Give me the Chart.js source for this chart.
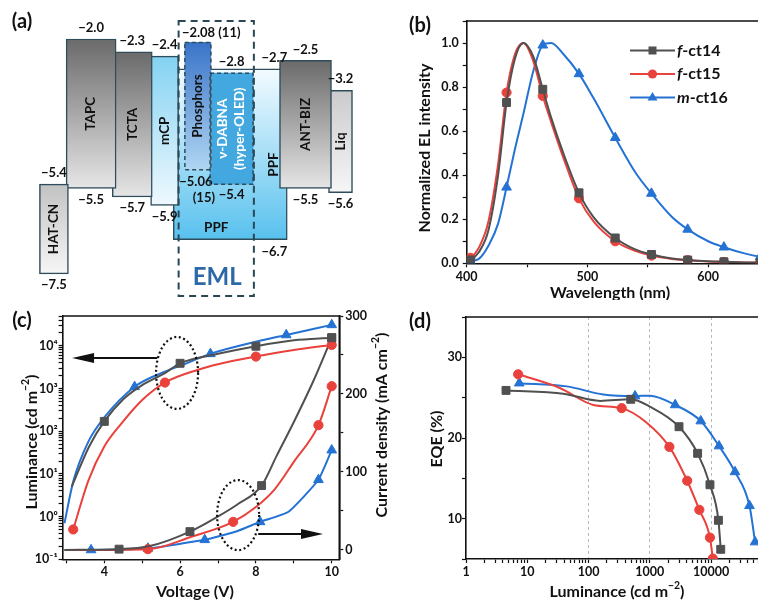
<!DOCTYPE html>
<html>
<head>
<meta charset="utf-8">
<script src="https://cdn.jsdelivr.net/npm/chart.js@4.4.1/dist/chart.umd.min.js"></script>
<style>
  html, body { margin: 0; padding: 0; background: #fff; }
  #page { position: relative; width: 758px; height: 600px; overflow: hidden; background: #fff; }
  canvas { position: absolute; }
</style>
</head>
<body>
<div id="page">
  <canvas id="energy" width="380" height="300" style="left:0;top:0"></canvas>
  <canvas id="spectra" width="460" height="300" style="left:380px;top:0"></canvas>
  <canvas id="jvl" width="420" height="300" style="left:0;top:300px"></canvas>
  <canvas id="eqe" width="400" height="300" style="left:380px;top:300px"></canvas>
</div>
<script>
// ---- (a) energy levels (eV) ----
const layers = ['HAT-CN', 'TAPC', 'TCTA', 'mCP', 'PPF', 'Phosphors', 'ν-DABNA', 'ANT-BIZ', 'Liq'];
const lumo = [-5.4, -2.0, -2.3, -2.4, -2.7, -2.08, -2.8, -2.5, -3.2];
const homo = [-7.5, -5.5, -5.7, -5.9, -6.7, -5.06, -5.4, -5.5, -5.6];
const refs = ['(11)', '(15)'];   // citations next to the phosphor levels

// ---- (b) EL spectra ----
const wavelengths = [400, 403, 410, 418, 426, 433, 440, 447, 455, 463, 470, 480, 493, 505, 523, 540, 553, 570, 583, 600, 613, 630, 643, 670, 700];
const ct14 = [0.01, 0.015, 0.05, 0.15, 0.40, 0.73, 0.93, 1.0, 0.94, 0.79, 0.66, 0.50, 0.32, 0.21, 0.115, 0.062, 0.04, 0.022, 0.015, 0.009, 0.007, 0.004, 0.003, 0.002, 0.001];
const ct15 = [0.02, 0.025, 0.07, 0.19, 0.45, 0.775, 0.95, 1.0, 0.92, 0.76, 0.64, 0.48, 0.295, 0.19, 0.10, 0.055, 0.035, 0.02, 0.014, 0.008, 0.006, 0.004, 0.003, 0.002, 0.001];
const ct16 = [0.005, 0.01, 0.02, 0.08, 0.18, 0.345, 0.52, 0.68, 0.87, 0.99, 1.0, 0.95, 0.86, 0.75, 0.57, 0.41, 0.317, 0.21, 0.154, 0.10, 0.073, 0.045, 0.03, 0.015, 0.008];
const markedWavelengths = [403, 433, 463, 493, 523, 553, 583, 613, 643];
const names = ['f-ct14', 'f-ct15', 'm-ct16'];

// ---- (c) J-V-L ----
const lumV14 = [3.14, 3.6, 4.0, 4.5, 5.0, 5.6, 6.0, 7.0, 8.0, 9.0, 10.0];
const lum14 = [5, 44, 170, 560, 1200, 2300, 3900, 6500, 9800, 13500, 15500];
const lumMarks14 = [4.0, 6.0, 8.0, 10.0];
const lumV15 = [3.18, 3.58, 4.0, 4.46, 5.0, 5.6, 6.5, 7.0, 8.0, 9.0, 10.0];
const lum15 = [0.5, 7, 44, 155, 540, 1380, 2800, 3700, 5600, 8000, 10500];
const lumMarks15 = [3.18, 5.6, 8.0, 10.0];
const lumV16 = [2.95, 3.18, 3.58, 4.0, 4.8, 5.5, 6.0, 6.8, 8.0, 8.8, 10.0];
const lum16 = [0.7, 6.6, 57, 210, 1100, 2300, 3400, 6500, 12500, 18000, 31000];
const lumMarks16 = [4.8, 6.8, 8.8, 10.0];

const jV14 = [2.95, 4.39, 5.2, 6.26, 7.0, 7.5, 8.15, 8.54, 9.03, 9.51, 10.0];
const j14 = [0, 1, 5, 23.5, 43, 58, 82.5, 120, 167, 216, 272];
const jMarks14 = [4.39, 6.26, 8.15, 10.0];
const jV15 = [2.95, 5.15, 6.3, 7.4, 8.0, 8.5, 9.0, 9.65, 10.0];
const j15 = [0, 1, 17, 36, 55, 78, 113, 160, 210];
const jMarks15 = [5.15, 7.4, 9.65, 10.0];
const jV16 = [2.95, 3.65, 5.15, 6.65, 7.5, 8.11, 8.86, 9.65, 10.0];
const j16 = [0, 0, 2, 13, 24, 36, 49, 90, 128];
const jMarks16 = [3.65, 5.15, 6.65, 8.11, 9.65, 10.0];

// ---- (d) EQE vs luminance ----
const eqeL14 = [4.5, 39, 155, 489, 1000, 3000, 6040, 9600, 13200, 14400];
const eqe14 = [25.9, 25.5, 24.6, 24.8, 23.9, 21.4, 18.1, 14.2, 9.8, 6.2];
const eqeMarks14 = [4.5, 489, 3000, 6040, 9600, 13200, 14400];
const eqeL15 = [7.1, 34, 120, 348, 890, 2090, 4080, 6440, 9600, 10700];
const eqe15 = [27.9, 26.2, 24.1, 23.7, 21.9, 18.9, 14.7, 11.1, 7.65, 5.05];
const eqeMarks15 = [7.1, 348, 2090, 4080, 6440, 9600, 10700];
const eqeL16 = [7.4, 44, 174, 575, 1000, 2600, 6800, 13500, 24600, 42400, 52400];
const eqe16 = [26.8, 26.4, 25.4, 25.2, 25.25, 24.1, 22.1, 19.0, 15.8, 11.6, 7.1];
const eqeMarks16 = [7.4, 575, 2600, 6800, 13500, 24600, 42400, 52400];

// ---------------------------------------------------------------
const FONT = 'Lato, "DejaVu Sans", sans-serif';
const INK = '#111';
const GRAY = '#505050', RED = '#e9423d', BLUE = '#2472d4';

Chart.defaults.font.family = FONT;
Chart.defaults.font.weight = 'bold';
Chart.defaults.font.size = 12.5;
Chart.defaults.color = INK;
Chart.defaults.animation = false;
Chart.defaults.responsive = false;
Chart.defaults.plugins.legend.display = false;
Chart.defaults.plugins.tooltip.enabled = false;

// text made of pieces: [text, ''|'i'|'sup']
function richText(ctx, parts, x, y, size, opts) {
  opts = opts || {};
  const fontFor = s => (s === 'i' ? 'italic ' : '') + 'bold ' + (s === 'sup' ? size * 0.65 : size) + 'px ' + FONT;
  ctx.save();
  ctx.translate(x, y);
  if (opts.rotate) ctx.rotate(opts.rotate);
  let total = 0;
  parts.forEach(([t, s]) => { ctx.font = fontFor(s); total += ctx.measureText(t).width; });
  let cx = opts.align === 'left' ? 0 : -total / 2;
  ctx.textAlign = 'left';
  ctx.textBaseline = 'middle';
  ctx.fillStyle = opts.color || INK;
  parts.forEach(([t, s]) => {
    ctx.font = fontFor(s);
    ctx.fillText(t, cx, s === 'sup' ? -size * 0.38 : 0);
    cx += ctx.measureText(t).width;
  });
  ctx.restore();
}

function textLayer(id, items) {
  return {
    id,
    afterDraw(chart) {
      items.forEach(it => richText(chart.ctx, it.parts, it.x, it.y, it.size || 16, it));
    }
  };
}

const frame = {
  id: 'frame',
  afterDatasetsDraw(chart) {
    const {ctx, chartArea: a} = chart;
    ctx.save();
    ctx.strokeStyle = INK;
    ctx.lineWidth = 1.6;
    ctx.beginPath();
    ctx.moveTo(a.left, a.top);
    ctx.lineTo(a.right, a.top);
    ctx.lineTo(a.right, a.bottom);
    ctx.stroke();
    ctx.restore();
  }
};

function axis(o) {
  return {
    type: o.type || 'linear',
    position: o.position,
    min: o.min,
    max: o.max,
    border: {color: INK, width: 1.6},
    grid: Object.assign({drawOnChartArea: false, tickLength: 4, tickColor: INK, tickWidth: 1.2}, o.grid || {}),
    ticks: {color: INK, font: {size: 12.5, weight: 'bold'}, autoSkip: false, maxRotation: 0, padding: o.pad || 0, callback: o.label},
    afterBuildTicks: s => { s.ticks = o.values.map(value => ({value})); },
    afterFit: s => {
      if (o.width !== undefined) s.width = o.width;
      if (o.height !== undefined) s.height = o.height;
    }
  };
}

function curve(label, xs, ys, marks, color, shape, r, extra) {
  return Object.assign({
    label,
    data: xs.map((x, i) => ({x, y: ys[i]})),
    borderColor: color,
    backgroundColor: color,
    borderWidth: 2,
    pointStyle: shape,
    pointBackgroundColor: color,
    pointBorderColor: color,
    pointBorderWidth: 1,
    pointRadius: c => (marks.includes(xs[c.dataIndex]) ? r : 0),
    cubicInterpolationMode: 'monotone',
    fill: false
  }, extra || {});
}

const sup = n => String(n).split('').map(ch => ({'-': '⁻', '0': '⁰', '1': '¹', '2': '²', '3': '³', '4': '⁴', '5': '⁵'})[ch]).join('');
const isDecade = v => Math.abs(Math.log10(v) - Math.round(Math.log10(v))) < 1e-6;
function logTicks(lo, hi) {
  const out = [];
  for (let d = Math.floor(Math.log10(lo)); d <= Math.ceil(Math.log10(hi)); d++) {
    for (let k = 1; k <= 9; k++) {
      const v = Number((k * Math.pow(10, d)).toPrecision(3));
      if (v >= lo && v <= hi) out.push(v);
    }
  }
  return out;
}
function steps(a, b, s) { const out = []; for (let v = a; v <= b + 1e-9; v += s) out.push(Number(v.toFixed(4))); return out; }

// =============== (a) energy diagram =================
const layerX = [34.5, 77, 124, 161, 236, 199, 237.5, 322, 362];
const layerW = [29, 50, 40, 28, 114, 26, 43, 52, 24];
const layerFill = [
  ['#c2c2c2', '#f6f6f6'], ['#6a6a6a', '#e6e6e6'], ['#6a6a6a', '#e6e6e6'], ['#84d2f2', '#eff9fe'],
  ['#f3fbff', '#58c1ee'], ['#3a74c8', '#b0d6f3'], ['#42a8df', '#42a8df'], ['#6a6a6a', '#e6e6e6'], ['#cbcbcb', '#f6f6f6']
];
const dashed = [false, false, false, false, false, true, true, false, false];
const EDGE = '#2e4c5a';

const fmt = v => '−' + (Math.abs(v) % 1 === 0 ? Math.abs(v).toFixed(1) : String(Math.abs(v)));

const energyDecor = {
  id: 'energyDecor',
  afterDatasetsDraw(chart) {
    const {ctx, scales: {x, y}} = chart;
    ctx.save();
    chart.data.datasets.forEach((ds, i) => {
      const bar = chart.getDatasetMeta(i).data[0];
      const p = bar.getProps(['x', 'y', 'base', 'width'], true);
      const top = Math.min(p.y, p.base), bottom = Math.max(p.y, p.base);
      const left = p.x - p.width / 2, right = p.x + p.width / 2;
      if (dashed[i]) {
        ctx.setLineDash([4, 3]);
        ctx.strokeStyle = EDGE;
        ctx.lineWidth = 1.5;
        ctx.strokeRect(left, top, p.width, bottom - top);
        ctx.setLineDash([]);
      }
      // level values
      ctx.font = 'bold 13px ' + FONT;
      ctx.fillStyle = INK;
      ctx.textBaseline = 'middle';
      const name = layers[i];
      if (name === 'PPF') {
        ctx.textAlign = 'right';
        ctx.fillText(fmt(lumo[i]), right, top - 11);
        ctx.fillText(fmt(homo[i]), right, bottom + 12);
      } else if (name === 'Phosphors') {
        ctx.textAlign = 'left';
        ctx.fillText(fmt(lumo[i]) + ' ' + refs[0], left - 3, top - 10);
        ctx.textAlign = 'center';
        ctx.fillText(fmt(homo[i]), p.x - 2, bottom + 12);
        ctx.fillText(refs[1], p.x + 6, bottom + 28);
      } else {
        ctx.textAlign = 'center';
        ctx.fillText(fmt(lumo[i]), p.x, top - 11);
        ctx.fillText(fmt(homo[i]), p.x, bottom + 11);
      }
      // layer names
      const cy = (top + bottom) / 2;
      if (name === 'PPF') {
        richText(ctx, [['PPF', '']], right - 14, top + (bottom - top) * 0.56, 13.5, {rotate: -Math.PI / 2});
        richText(ctx, [['PPF', '']], left + 43, bottom - 12, 13.5);
      } else if (name === 'ν-DABNA') {
        richText(ctx, [['ν-DABNA', '']], p.x - 8.5, cy, 13.5, {rotate: -Math.PI / 2, color: '#fff'});
        richText(ctx, [['(hyper-OLED)', '']], p.x + 8.5, cy, 13.5, {rotate: -Math.PI / 2, color: '#fff'});
      } else {
        richText(ctx, [[name, '']], p.x, cy, 13.5, {rotate: -Math.PI / 2});
      }
    });
    // EML frame
    const ex0 = x.getPixelForValue(177), ex1 = x.getPixelForValue(263);
    const ey0 = y.getPixelForValue(-1.58), ey1 = y.getPixelForValue(-8.02);
    ctx.setLineDash([7, 5]);
    ctx.strokeStyle = '#2a4755';
    ctx.lineWidth = 2;
    ctx.strokeRect(ex0, ey0, ex1 - ex0, ey1 - ey0);
    ctx.setLineDash([]);
    richText(ctx, [['EML', '']], (ex0 + ex1) / 2 + 1, y.getPixelForValue(-7.57), 24, {color: '#2d69a6'});
    richText(ctx, [['(a)', '']], 22, 22, 20);
    ctx.restore();
  }
};

new Chart(document.getElementById('energy'), {
  type: 'bar',
  data: {
    datasets: layers.map((name, i) => ({
      label: name,
      data: [{x: layerX[i], y: [homo[i], lumo[i]]}],
      barThickness: layerW[i],
      grouped: false,
      order: name === 'PPF' ? 2 : (dashed[i] ? 0 : 1),
      borderSkipped: false,
      borderWidth: dashed[i] ? 0 : 1.5,
      borderColor: EDGE,
      backgroundColor: c => {
        const area = c.chart.chartArea;
        if (!area) return layerFill[i][0];
        const ys = c.chart.scales.y;
        const g = c.chart.ctx.createLinearGradient(0, ys.getPixelForValue(lumo[i]), 0, ys.getPixelForValue(homo[i]));
        g.addColorStop(0, layerFill[i][0]);
        g.addColorStop(1, layerFill[i][1]);
        return g;
      }
    }))
  },
  options: {
    layout: {padding: 0},
    scales: {
      x: {type: 'linear', min: 0, max: 380, display: false},
      y: {type: 'linear', min: -8.112, max: -1.087, display: false}
    }
  },
  plugins: [energyDecor]
});

// =============== (b) spectra =================
const SQ = ['rect', 5.6], CI = ['circle', 4.6], TR = ['triangle', 5.6];
const colors = [GRAY, RED, BLUE];
const shapes = [SQ, CI, TR];

const specLegend = {
  id: 'specLegend',
  afterDraw(chart) {
    const {ctx} = chart;
    names.forEach((nm, i) => {
      const yy = 50.5 + i * 23.5;
      ctx.save();
      ctx.strokeStyle = colors[i];
      ctx.fillStyle = colors[i];
      ctx.lineWidth = 2;
      ctx.beginPath();
      ctx.moveTo(250, yy); ctx.lineTo(295, yy); ctx.stroke();
      const cx = 272.5;
      ctx.beginPath();
      if (shapes[i][0] === 'rect') ctx.rect(cx - 4, yy - 4, 8, 8);
      else if (shapes[i][0] === 'circle') ctx.arc(cx, yy, 4.6, 0, Math.PI * 2);
      else { ctx.moveTo(cx, yy - 5.6); ctx.lineTo(cx + 5, yy + 3); ctx.lineTo(cx - 5, yy + 3); ctx.closePath(); }
      ctx.fill();
      ctx.restore();
      richText(ctx, [[nm[0], 'i'], [nm.slice(1), '']], 297, yy, 16, {align: 'left'});
    });
  }
};

new Chart(document.getElementById('spectra'), {
  type: 'line',
  data: {
    datasets: [ct14, ct15, ct16].map((ys, i) =>
      curve(names[i], wavelengths, ys, markedWavelengths, colors[i], shapes[i][0], shapes[i][1]))
  },
  options: {
    layout: {padding: {left: 0, right: 11, top: 21, bottom: 0}},
    scales: {
      x: axis({min: 400, max: 700, values: steps(400, 700, 50), height: 36.7, pad: 2,
        label: v => (v % 100 === 0 && v < 700 ? v : '')}),
      y: axis({min: 0, max: 1.1, values: steps(0, 1.1, 0.1), width: 86.7, pad: 4,
        label: v => (Math.round(v * 10) % 2 === 0 && v <= 1.0001 ? v.toFixed(1) : '')})
    }
  },
  plugins: [frame, specLegend, textLayer('titlesB', [
    {parts: [['(b)', '']], x: 40, y: 26, size: 20},
    {parts: [['Normalized EL intensity', '']], x: 45, y: 148, size: 16, rotate: -Math.PI / 2},
    {parts: [['Wavelength (nm)', '']], x: 230, y: 293, size: 16}
  ])]
});

// =============== (c) J-V-L =================
const jvlNotes = {
  id: 'jvlNotes',
  afterDatasetsDraw(chart) {
    const {ctx, scales: {x, y, y1}} = chart;
    ctx.save();
    ctx.strokeStyle = INK;
    ctx.fillStyle = INK;
    // dotted ellipses grouping the two families of curves
    ctx.lineWidth = 2.2;
    ctx.setLineDash([2, 2.6]);
    [[5.92, y, 2320, 21, 36], [7.53, y1, 44.7, 21, 35]].forEach(([xv, sc, v, rx, ry]) => {
      ctx.beginPath();
      ctx.ellipse(x.getPixelForValue(xv), sc.getPixelForValue(v), rx, ry, 0, 0, Math.PI * 2);
      ctx.stroke();
    });
    ctx.setLineDash([]);
    // arrows pointing to the matching axis
    ctx.lineWidth = 2;
    [[5.4, 3.15, y, 5200], [8.06, 9.77, y1, 20.4]].forEach(([a, b, sc, v]) => {
      const x0 = x.getPixelForValue(a), x1 = x.getPixelForValue(b), yy = sc.getPixelForValue(v);
      const dir = Math.sign(x1 - x0);
      ctx.beginPath();
      ctx.moveTo(x0, yy); ctx.lineTo(x1 - dir * 18, yy); ctx.stroke();
      ctx.beginPath();
      ctx.moveTo(x1, yy); ctx.lineTo(x1 - dir * 22, yy - 5); ctx.lineTo(x1 - dir * 22, yy + 5); ctx.closePath();
      ctx.fill();
    });
    ctx.restore();
  }
};

new Chart(document.getElementById('jvl'), {
  type: 'line',
  data: {
    datasets: [
      curve('f-ct14 L', lumV14, lum14, lumMarks14, GRAY, 'rect', 5.6, {yAxisID: 'y'}),
      curve('f-ct15 L', lumV15, lum15, lumMarks15, RED, 'circle', 4.6, {yAxisID: 'y'}),
      curve('m-ct16 L', lumV16, lum16, lumMarks16, BLUE, 'triangle', 5.6, {yAxisID: 'y'}),
      curve('f-ct14 J', jV14, j14, jMarks14, GRAY, 'rect', 5.6, {yAxisID: 'y1'}),
      curve('f-ct15 J', jV15, j15, jMarks15, RED, 'circle', 4.6, {yAxisID: 'y1'}),
      curve('m-ct16 J', jV16, j16, jMarks16, BLUE, 'triangle', 5.6, {yAxisID: 'y1', cubicInterpolationMode: 'default', tension: 0.15})
    ]
  },
  options: {
    layout: {padding: {left: 0, right: 0, top: 16, bottom: 0}},
    scales: {
      x: axis({min: 2.9, max: 10.2, values: [3, 4, 5, 6, 7, 8, 9, 10], height: 40.7, pad: 1,
        label: v => (v % 2 === 0 ? v : '')}),
      y: axis({type: 'logarithmic', position: 'left', min: 0.1, max: 5e4, values: logTicks(0.1, 5e4), width: 62.6, pad: 1,
        label: v => (isDecade(v) ? '10' + sup(Math.round(Math.log10(v))) : '')}),
      y1: axis({position: 'right', min: -12, max: 300, values: steps(0, 300, 50), width: 80.7, pad: 2,
        label: v => (v % 100 === 0 ? v : '')})
    }
  },
  plugins: [frame, jvlNotes, textLayer('titlesC', [
    {parts: [['(c)', '']], x: 22, y: 21, size: 20},
    {parts: [['Luminance (cd m', ''], ['−2', 'sup'], [')', '']], x: 32, y: 142, size: 16, rotate: -Math.PI / 2},
    {parts: [['Voltage (V)', '']], x: 195, y: 292, size: 16},
    {parts: [['Current density (mA cm', ''], ['−2', 'sup'], [')', '']], x: 382, y: 125, size: 16, rotate: -Math.PI / 2}
  ])]
});

// =============== (d) EQE =================
new Chart(document.getElementById('eqe'), {
  type: 'line',
  data: {
    datasets: [
      curve('f-ct14', eqeL14, eqe14, eqeMarks14, GRAY, 'rect', 5.6),
      curve('f-ct15', eqeL15, eqe15, eqeMarks15, RED, 'circle', 4.6),
      curve('m-ct16', eqeL16, eqe16, eqeMarks16, BLUE, 'triangle', 5.6)
    ]
  },
  options: {
    layout: {padding: {left: 0, right: 7.7, top: 17, bottom: 0}},
    scales: {
      x: Object.assign(axis({type: 'logarithmic', min: 1, max: 1e5, values: logTicks(1, 1e5), height: 41, pad: 1,
        label: v => (isDecade(v) && v < 1e5 ? String(v) : ''),
        grid: {drawOnChartArea: true, lineWidth: 1,
          color: c => ([100, 1000, 10000].includes(c.tick && c.tick.value) ? '#b8b8b8' : 'rgba(0,0,0,0)')}}),
        {border: {color: INK, width: 1.6, dash: [3, 3]}}),
      y: axis({min: 5, max: 35, values: steps(5, 35, 5), width: 86, pad: 0,
        label: v => (v % 10 === 0 && v < 35 ? v : '')})
    }
  },
  plugins: [frame, textLayer('titlesD', [
    {parts: [['(d)', '']], x: 40, y: 22, size: 20},
    {parts: [['EQE (%)', '']], x: 57, y: 139, size: 16, rotate: -Math.PI / 2},
    {parts: [['Luminance (cd m', ''], ['−2', 'sup'], [')', '']], x: 237, y: 292, size: 16}
  ])]
});
</script>
</body>
</html>
